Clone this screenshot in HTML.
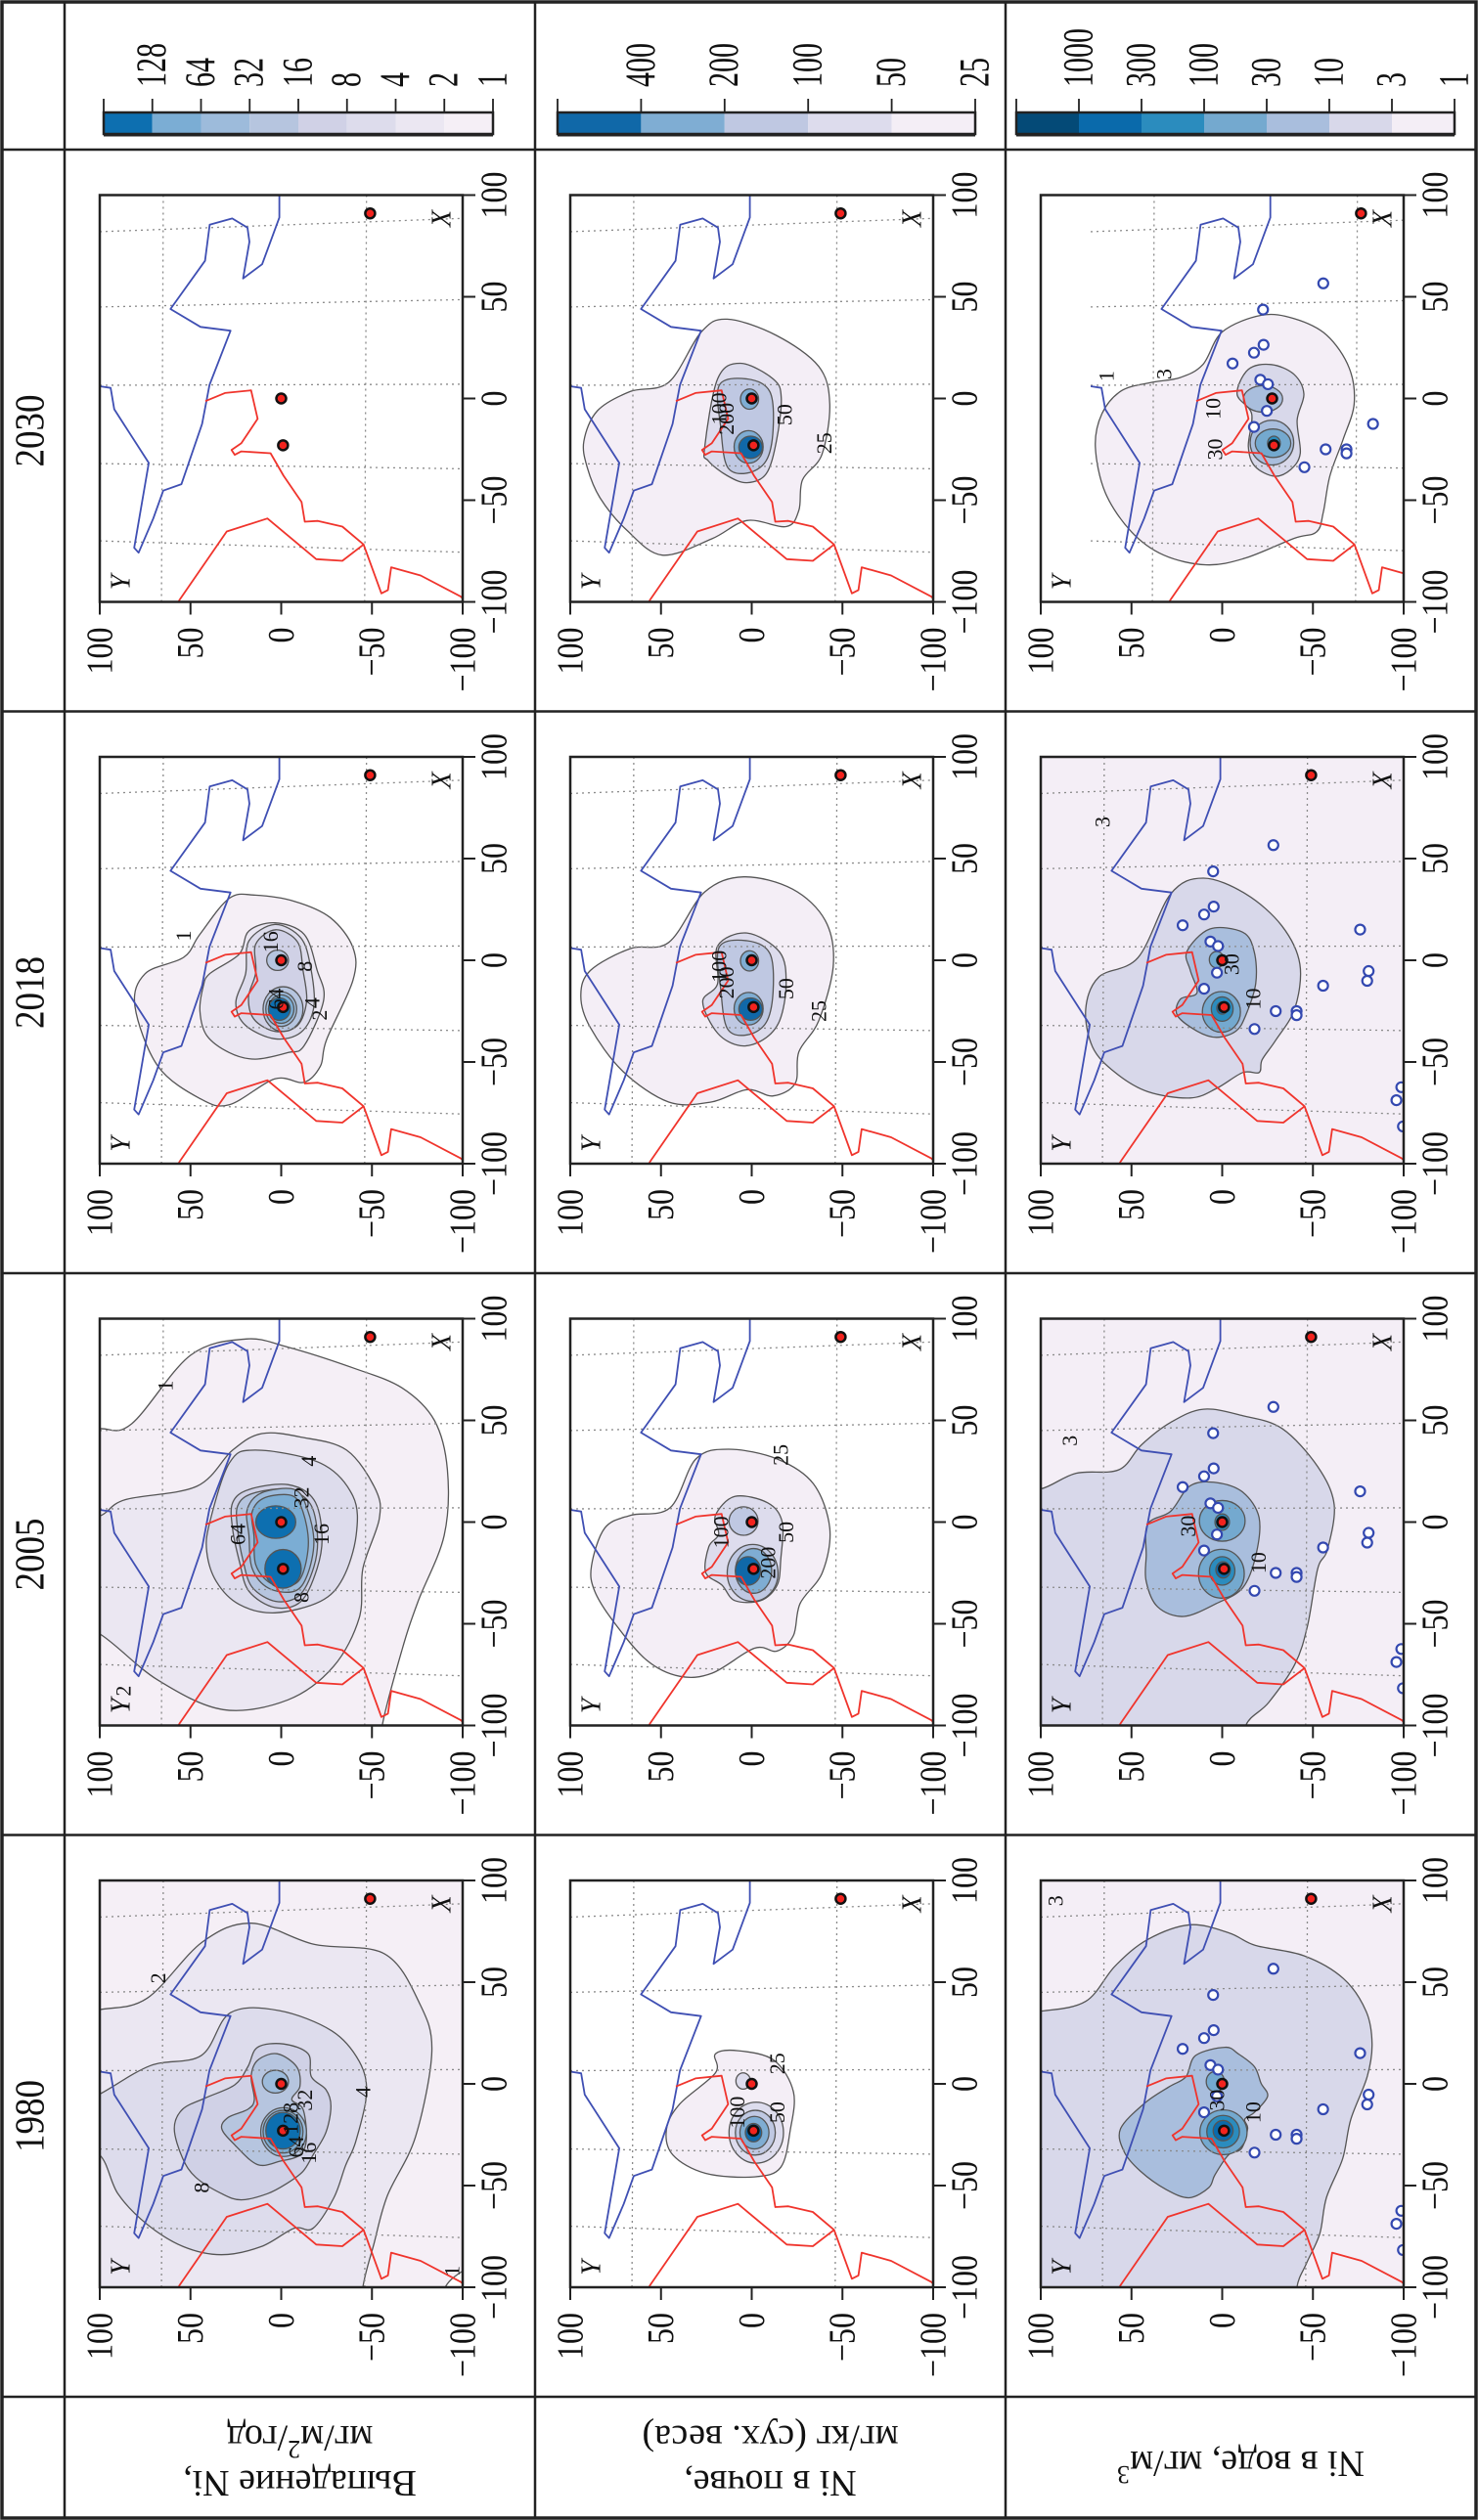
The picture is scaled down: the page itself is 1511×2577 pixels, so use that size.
<!DOCTYPE html>
<html><head><meta charset="utf-8">
<style>
html,body{margin:0;padding:0;background:#fff;}
svg{display:block;}
text{font-family:"Liberation Serif","DejaVu Serif",serif;fill:#111;}
</style></head>
<body>
<svg id="fig" xmlns="http://www.w3.org/2000/svg" width="1511" height="2577" viewBox="0 0 1511 2577">
<rect x="0" y="0" width="1511" height="2577" fill="#fff"/>
<g id="root" transform="translate(0,2577) rotate(-90)"></g>
</svg>
<script>
// ---------- data ----------
const years = ["1980","2005","2018","2030"];
const rowTitles = [["Выпадение Ni,","мг/м2/год"],["Ni в почве,","мг/кг (сух. веса)"],["Ni в воде, мг/м3"]];
const depLevels = [1,2,4,8,16,32,64,128];
const soilLevels = [25,50,100,200,400];
const waterLevels = [1,3,10,30,100,300,1000];
const depColors = ["#f5eff6","#ebe7f2","#dddcec","#d0d1e6","#b6c5df","#9dbbdb","#7badd4","#0d6fb0"];
const soilColors = ["#f4eef6","#dddced","#bfc8e2","#7fadd3","#1068a8"];
const waterColors = ["#f4eef6","#d8d8ea","#a9bedd","#74a9cf","#2b8cbe","#0a6aab","#044a77"];
const tickVals = [-100,-50,0,50,100];
const gridX = [82,45,6.5,-32,-70];
const gridY = [66,-46];
const sources = [[0,0],[-23,-1],[91,-49]];
const blueLine = [[99.5,1],[89,1],[66,10.5],[59,21],[77,17.5],[84,18.6],[88.5,27],[85.5,39.4],[67.7,42],[44,61],[35.2,44.5],[33.3,27.9],[6.7,39.5],[-12.5,43.6],[-42.1,55],[-45.3,65],[-59,70.5],[-75.8,78.6],[-73.4,81],[-31.7,73],[-5.3,92],[5.2,94],[6,100],[6,103]];
const redA = [[-1.3,41.8],[2.7,31],[4,16.6],[-10,13],[-22,22],[-25.3,27.4],[-27.7,25.6],[-26,22],[-26.9,5.9],[-38,-1.3],[-50.9,-11.2],[-60.6,-13],[-60.2,-20.2],[-63,-33.7],[-71.8,-45.4],[-95.8,-55.2],[-94.2,-58.8],[-83,-60.6],[-87,-76.8],[-97.4,-99],[-100,-102]];
const redB = [[-71.8,-45.4],[-79.8,-33.7],[-79,-19.3],[-59,7.6],[-65.4,30],[-99,56],[-102,58]];
const sites = [[17.2,21.8],[22.5,10],[26.4,4.7],[43.7,5],[9.2,6.5],[7,2.3],[-6.1,2.9],[-14,10],[-25,-29.5],[-25,-41],[-27,-41],[-33.8,-17.8],[-12.5,-55.6],[15.1,-76],[-5.3,-80.7],[-10.1,-79.9],[56.6,-28.2],[-68.8,-96],[-62.4,-98.7],[-81.7,-99.6]];
const FULL = [[130,130],[130,-130],[-130,-130],[-130,130]];

// contour polygons per panel: [levelIndex, points(X,Y)]
const dep1980Polys = [
 [0,[[130,130],[130,-130],[-80,-130],[-92,-100],[-104,-88],[-130,-80],[-130,130]]],
 [1,[[36.5,100],[42,74],[69.7,43.5],[79,16.4],[68.6,-18],[64,-56.8],[40,-76],[16,-83],[-26,-74],[-55,-58.5],[-79,-51],[-100,-45],[-120,-44],[-120,30],[-120,120],[0,120],[34,118]]],
 [2,[[-5,100],[9,72],[14,44],[35,28],[36,1],[26,-28],[11,-43],[-5,-47],[-28.5,-41],[-40,-35.5],[-56,-29],[-71,-17.5],[-71,-7],[-80,11],[-84,33],[-80,54],[-69,74],[-54,90],[-35,100],[-30,118],[-12,118]]],
 [3,[[-22,58.9],[-36.5,54.4],[-46,47],[-54,32.8],[-57,22],[-54,7.6],[-49,-3],[-43,-12],[-35,-17.5],[-23.7,-24.7],[-10.9,-27.4],[-2.9,-24.7],[3.5,-16.6],[14.8,-14.8],[19.6,-1.3],[18,13],[8.4,18.4],[-0.5,25.6],[-6.9,41.8],[-12.5,54.4]]],
 [4,[[-22,32.8],[-16.5,29.2],[-12.5,18.4],[-7.7,14.8],[3.5,16.6],[11.6,13],[14.8,2.3],[8.4,-8.5],[-1.3,-10.3],[-7.7,-5.8],[-12.5,-12],[-26.9,-13.9],[-34.9,-10.3],[-38,0.5],[-39.7,13],[-30,25.6]]]
];
const dep1980Ells = [[5,1.1,3.2,5.6,7.2],[5,-23.7,-1.3,12,12.6],[6,-23.5,-1,10.5,11],[7,-23,-1,9,9.5]];
const dep2005Polys = [
 [0,[[45.9,100],[48.3,82.4],[82,50],[90,19.6],[86,-3.7],[75.8,-39.5],[66,-66.5],[50,-84.4],[25.7,-91.6],[-6.6,-89.8],[-39,-75.4],[-63,-66.5],[-100,-55.7],[-120,-55],[-120,120],[46,120]]],
 [1,[[3,100],[11,86],[17.6,46.5],[35.4,26.8],[43.5,10.7],[41.8,-10.8],[35.4,-36],[16,-52],[1.5,-54],[-22.8,-45],[-47,-43],[-71,-28.8],[-87.4,-3.7],[-92.2,32],[-77.7,68],[-55,100],[-50,120],[0,120]]],
 [2,[[-0.2,39.4],[29,28.6],[35.4,14.3],[29,-21.6],[12.8,-39.5],[-6.6,-41.3],[-27.6,-34],[-39,-21.6],[-44.6,3.5],[-40.5,23.2],[-29.2,35.8],[-14.7,41]]],
 [3,[[9.5,26.8],[16,17.8],[18.4,-3.7],[11,-18],[-6.6,-22.5],[-22.8,-19.8],[-39,-10.9],[-42,3.5],[-34,17.8],[-19.5,23],[-3.4,26.8]]],
 [4,[[8,24],[14,16],[16,-3],[9,-16],[-7,-20],[-22,-18],[-36,-10],[-39,3],[-32,16],[-19,21],[-4,24]]],
 [5,[[6.3,18.7],[14.4,10.7],[16,-7.3],[6.3,-14.4],[-9.9,-18],[-26,-14.4],[-34,-7.3],[-32.5,7],[-22.8,16],[-6.6,17.8]]],
 [6,[[5,16],[12,9],[13,-6],[5,-12],[-10,-15],[-25,-12],[-31,-6],[-30,6],[-21,14],[-7,15]]]
];
const dep2005Ells = [[7,0,3,8,11],[7,-23,-1,9.5,10]];
const dep2018Polys = [
 [0,[[12.8,44.8],[30.5,28.6],[32,14.3],[29,-7.3],[21,-27],[6.3,-39.5],[-9.9,-39.5],[-39,-25],[-52,-21.6],[-60,-12.6],[-58.3,3.5],[-71,28.6],[-68,44.8],[-52,68],[-22.8,80.6],[-6.6,75],[1.5,53.7]]],
 [1,[[-13,43],[-6.6,39.4],[3,23.2],[14.4,17.8],[18.4,3.5],[12.8,-12.6],[-4.9,-19.8],[-19.5,-23.4],[-42,-12.6],[-45.4,-3.7],[-48.6,14.3],[-45.4,28.6],[-37,41],[-25,44.8]]],
 [2,[[9.5,17.8],[17.6,3.5],[11,-10.8],[-3.4,-16.2],[-22.8,-18],[-35.4,-10.9],[-38.6,3.5],[-32,19.6],[-21,25],[-6.6,19.6]]],
 [3,[[8,14],[15,3],[9,-9],[-5,-12],[-20,-14],[-32,-9],[-35,3],[-29,15],[-18,18],[-6,14]]]
];
const dep2018Ells = [[4,0,2,5,6],[4,-24,-1,11,11],[5,-24,0,8.5,8.5],[6,-24,0,7,7],[7,-24,1,5.5,6]];
const soil1980Polys = [
 [0,[[-22.5,47],[-10,39.8],[5.4,20],[14.7,20],[16.3,7.5],[11.6,-12.3],[-4,-23],[-22.5,-21.3],[-41,-16],[-45.7,-1.5],[-44,25.4],[-35,43.4]]]
];
const soil1980Ells = [[1,1.4,4.7,4,4],[1,-24,-2.5,15,15],[2,-24,-2,11,11],[3,-24,-1.5,8,8],[4,-24,-1,4.5,4.5]];
const soil2005Polys = [
 [0,[[-21.5,88.3],[-3,81],[3.3,66.8],[7,45],[31,30.8],[35.8,12.8],[31,-14],[18.8,-34],[-3,-43],[-24.7,-39],[-40,-26.7],[-55.7,-23],[-63.4,-14],[-62,-1.5],[-74.3,21.8],[-75.8,39.8],[-68,57.8],[-49.5,75.7],[-34,86.5]]],
 [1,[[3.3,20],[12.6,9.3],[9.5,-8.7],[0,-16.8],[-18.4,-16],[-31,-14],[-38.6,-5],[-38.6,9.3],[-31,16.4],[-24.7,25.4],[-12,23.6],[-6,18.2]]]
];
const soil2005Ells = [[2,0.5,4.5,7,8],[2,-25,-0.5,14,14],[3,-24,-1,11,10],[4,-24,2,7,7]];
const soil2018Polys = [
 [0,[[-17.5,94.2],[-5,88.9],[5.7,67],[8.8,45.7],[33.5,26],[41,4.4],[35,-22.5],[19.6,-40.5],[-2,-45],[-29.6,-37],[-45,-26],[-60.5,-24],[-66.7,-11.8],[-63.6,2.6],[-69.7,22.4],[-69.7,45.7],[-54.6,71],[-33,89]]],
 [1,[[7,18.8],[13.4,2.6],[4,-15.4],[-11.5,-19],[-29.6,-15.4],[-39,-6.4],[-42,6.2],[-35.8,18.8],[-20.4,27],[-11.5,18.8]]],
 [2,[[6.5,17.9],[9.6,2.6],[3.4,-10],[-15,-11.8],[-30.6,-8],[-36.7,2.6],[-33.6,13.4],[-15,17]]]
];
const soil2018Ells = [[3,-0.3,1.2,5,5],[3,-23.8,1.7,8,8],[4,-24,0.6,5.5,6.5]];
const soil2030Polys = [
 [0,[[-21,92.5],[-6,85],[3.4,67],[8,45.7],[32.7,27.8],[39,13.4],[31,-13.6],[15.7,-37],[-2.8,-43],[-27.5,-38.7],[-40,-28],[-55,-26],[-63,-19],[-60,2.6],[-69,22],[-77,49.3],[-64.6,69],[-49,83.5],[-34,90.6]]],
 [1,[[-24.4,26],[9.6,18.8],[17.3,6.2],[9.6,-11.8],[0.3,-16.3],[-21,-13.6],[-37,-8],[-41.4,2.6],[-38,13.4],[-30.6,24]]],
 [2,[[6.5,17.9],[9.6,2.6],[3.4,-10],[-15,-11.8],[-30.6,-8],[-36.7,2.6],[-33.6,13.4],[-15,17]]]
];
const soil2030Ells = [[3,-0.3,1.2,5,5],[3,-23.8,1.7,8,8],[4,-24,0.6,5.5,6.5]];
const water1980Polys = [
 [0,FULL],
 [1,[[35.7,100],[40.6,75.2],[58,59],[71,41],[78.2,17.7],[74.2,-3.9],[68.1,-18.2],[63,-45],[51.8,-66.8],[35.7,-79.3],[19.6,-82.6],[3.5,-79.9],[-17.4,-70.9],[-36.7,-66.4],[-56,-57.4],[-73.6,-53.8],[-88,-46.6],[-100,-41.2],[-120,-41],[-120,120],[35,120]]],
 [2,[[-9.3,42.4],[-22,56],[-33.4,54],[-43,45],[-52,30.8],[-56,18.2],[-51,7.4],[-44.7,4],[-35,-3.4],[-31.8,-10.6],[-22,-14],[-17.4,-12.4],[-14,-17.8],[-6.1,-25],[0.3,-21.4],[8.4,-17.8],[14.8,-8.8],[18,-1.6],[14,14.6],[3.5,20],[-1.3,29]]]
];
const water1980Ells = [[3,1.1,3.8,5,5],[3,-23.8,-0.7,11,13],[4,-23.5,-0.5,8,9],[5,-23,-0.5,5,5.5],[6,-23,-1,2.5,2.5]];
const water2005Polys = [
 [0,FULL],
 [1,[[16.3,100],[24,80.6],[25.7,57],[38,44.5],[49,28.4],[55.5,10.4],[52.3,-11.3],[46,-33],[27.3,-52.6],[8.5,-61.7],[-13.5,-58],[-23,-52.6],[-51,-47],[-70,-40],[-88.7,-25.6],[-100,-13],[-120,-10],[-120,120],[16,120]]],
 [2,[[-16.6,41.9],[-1,41],[5.3,28.4],[17.9,17.6],[19.4,3.1],[14.7,-11.3],[2.2,-20.3],[-16.6,-18.5],[-32.3,-11.3],[-40,3.1],[-46.4,21.2],[-41.7,35.6],[-29.2,41.9]]]
];
const water2005Ells = [[3,0.6,0,10,12.6],[3,-25.4,0.45,12,12.6],[4,0,0,4,4],[4,-24,0,7,7],[5,-23.5,-0.5,4,4]];
const water2018Polys = [
 [0,FULL],
 [1,[[-23.8,75.2],[-8.2,68],[1.3,46.4],[32.6,28.4],[40.4,10.4],[32.6,-13],[16.9,-32.9],[-1.9,-42.8],[-23.8,-40],[-39.5,-29.3],[-48.9,-22],[-55.2,-20.3],[-55.2,-11.3],[-63,3.1],[-67.7,17.6],[-64.6,41],[-55.2,59],[-42.6,71.5]]],
 [2,[[4.4,19.4],[15.4,6.8],[13.8,-11.3],[4.4,-17.6],[-11.3,-18.5],[-27,-13],[-34.8,-7.6],[-37.9,3.1],[-34.8,13.9],[-27,24.8],[-19.1,23],[-16,13.9],[-5,17.6]]]
];
const water2018Ells = [[3,0.3,3.1,4,4],[3,-25.4,0.45,10,10.5],[4,-24,0,6,6],[5,-23.5,0,3,3]];
const water2030Polys = [
 [0,[[-23.6,69.9],[-7.5,66.3],[3.8,55.5],[7.8,39.4],[10.3,23.2],[16.7,10.7],[32.8,-0.1],[40.9,-21.6],[39.3,-39.5],[31.2,-57.5],[15,-70],[-2.7,-72.7],[-20.4,-66.5],[-38.2,-59.3],[-56,-55.7],[-65.6,-52],[-68.8,-39.5],[-78.5,-12.6],[-81.8,8.9],[-77,32.2],[-65.6,50],[-46.2,64.5]]],
 [1,[[2.2,-8.2],[14.3,-14.4],[16.7,-27],[11.9,-39.5],[2.2,-45],[-10.7,-41.3],[-26.9,-43],[-34.9,-37.8],[-38.2,-28.8],[-33.3,-18],[-23.6,-14.4],[-7.5,-16.2]]]
];
const water2030Ells = [[2,-0.2,-22.5,6.5,10.8],[2,-21.7,-27.4,11,12],[3,-22,-28,7,9.8],[4,-22,-28.5,3.5,3.5]];
const depLabels = [[["2",52,68],["4",-4,-45],["8",-51,44],["16",-34,-15],["32",-8,-13],["64",-31,-8],["128",-17,-5],["1",-92,-94]],
 [["1",67,64],["2",-83,87],["4",30,-15],["8",-37,-11],["16",-6,-22],["32",12,-11],["64",-6,24]],
 [["1",12,54],["16",9,6],["8",-3,-13],["4",-21,-17],["2",-27,-21],["64",-19,3]],[]];
const soilLabels = [[["25",10,-14],["50",-14,-14],["100",-14,8]],[["25",33,-16],["50",-5,-19],["100",-5,17],["200",-20,-9]],[["25",-25,-37],["50",-14,-19],["100",-3,18],["200",-11,14]],[["25",-22,-40],["50",-8,-18],["100",-5,18],["200",-10,14]]];
const waterLabels = [[["3",90,92],["30",-8,3],["10",-14,-17]],[["3",40,84],["30",-2,19],["10",-20,-20]],[["3",68,66],["30",-2,-5],["10",-19,-17]],[["1",11,64],["3",12,32],["10",-5,5],["30",-25,4]]];

// ---------- helpers ----------
const NS="http://www.w3.org/2000/svg";
const root=document.getElementById('root');
function el(tag,attrs,parent){const e=document.createElementNS(NS,tag);for(const k in attrs)e.setAttribute(k,attrs[k]);(parent||root).appendChild(e);return e;}
function smoothPath(pts){
  const n=pts.length;let d="M"+pts[0][0].toFixed(1)+","+pts[0][1].toFixed(1);
  for(let i=0;i<n;i++){
    const p0=pts[(i-1+n)%n],p1=pts[i],p2=pts[(i+1)%n],p3=pts[(i+2)%n];
    const c1=[p1[0]+(p2[0]-p0[0])/6,p1[1]+(p2[1]-p0[1])/6];
    const c2=[p2[0]-(p3[0]-p1[0])/6,p2[1]-(p3[1]-p1[1])/6];
    d+="C"+c1[0].toFixed(1)+","+c1[1].toFixed(1)+" "+c2[0].toFixed(1)+","+c2[1].toFixed(1)+" "+p2[0].toFixed(1)+","+p2[1].toFixed(1);
  }
  return d+"Z";
}
function text(parent,str,x,y,size,opts){
  opts=opts||{};
  const t=el('text',{x:0,y:0,'font-size':size,'text-anchor':opts.anchor||'middle','dominant-baseline':'central',
    transform:'translate('+x+','+y+')'+(opts.rot?' rotate('+opts.rot+')':'')+(opts.sy?' scale(1,'+opts.sy+')':'')},parent);
  if(opts.italic)t.setAttribute('font-style','italic');
  t.textContent=str;return t;
}

const cellU=[126,700.5,1275,1849.5];
const rowV=[66,547,1028];
const PW=416, PH=371;

// ---------- table grid ----------
const grid=el('g',{});


el('rect',{x:2,y:2,width:2573,height:1507,fill:'none',stroke:'#222','stroke-width':3.5},grid);
[126,700.5,1275,1849.5,2424].forEach(u=>el('line',{x1:u,y1:2,x2:u,y2:1509,stroke:'#222','stroke-width':2.5},grid));
[66,547,1028].forEach(v=>el('line',{x1:2,y1:v,x2:2575,y2:v,stroke:'#222','stroke-width':2.5},grid));

// year headers
years.forEach((yr,i)=>{
  const t=text(root,yr,cellU[i]+287,30,37,{sy:1.15});
  
  
});
// row headers
rowTitles.forEach((lines,r)=>{
  const g=el('g',{});
  
  
  const vc=rowV[r]+240.5;
  const us=lines.length===2?[38,84]:[58];
  lines.forEach((ln,k)=>{
    const t=el('text',{x:0,y:0,'font-size':38,'text-anchor':'middle','dominant-baseline':'central',transform:'translate('+us[k]+','+vc+') rotate(-90)'},g);
    if(ln.indexOf('м2')>=0){t.textContent='мг/м';const s=el('tspan',{dy:-12,'font-size':26},t);s.textContent='2';const r2=el('tspan',{dy:12},t);r2.textContent='/год';}
    else if(ln.indexOf('м3')>=0){t.textContent='Ni в воде, мг/м';const s=el('tspan',{dy:-12,'font-size':26},t);s.textContent='3';}
    else t.textContent=ln;
  });
});

// ---------- panels ----------
const panels=[
 {r:0,levels:depLevels,colors:depColors,data:[[dep1980Polys,dep1980Ells],[dep2005Polys,dep2005Ells],[dep2018Polys,dep2018Ells],[[],[]]],labels:depLabels,name:'deposition'},
 {r:1,levels:soilLevels,colors:soilColors,data:[[soil1980Polys,soil1980Ells],[soil2005Polys,soil2005Ells],[soil2018Polys,soil2018Ells],[soil2030Polys,soil2030Ells]],labels:soilLabels,name:'soil'},
 {r:2,levels:waterLevels,colors:waterColors,data:[[water1980Polys,water1980Ells],[water2005Polys,water2005Ells],[water2018Polys,water2018Ells],[water2030Polys,water2030Ells]],labels:waterLabels,name:'water',sites:true}
];
let clipId=0;
panels.forEach(P=>{
  for(let c=0;c<4;c++){
    const L=cellU[c]+112, T=rowV[P.r]+36;
    const xs=X=>L+(X+100)*PW/200;
    const ys=Y=>T+(100-Y)*PH/200;
    const shift=(P.name==='water'&&c===3)?-27.5:0;
    const g=el('g',{});
    
    
    const cid='clip'+(clipId++);
    const cp=el('clipPath',{id:cid},g);
    el('rect',{x:L,y:T,width:PW,height:PH},cp);
    const inner=el('g',{'clip-path':'url(#'+cid+')'},g);
    el('rect',{x:L,y:T,width:PW,height:PH,fill:'#fff'},inner);
    // contours by level
    const [polys,ells]=P.data[c];
    for(let lv=0;lv<P.levels.length;lv++){
      polys.filter(p=>p[0]===lv).forEach(p=>{
        const pts=p[1].map(q=>[xs(q[0]),ys(q[1])]);
        const path=el('path',{d:smoothPath(pts),fill:P.colors[lv],stroke:'#555','stroke-width':1.3},inner);
        
        
      });
      ells.filter(e=>e[0]===lv).forEach(e=>{
        const ell=el('ellipse',{cx:xs(e[1]),cy:ys(e[2]),rx:xs(e[1]+e[3])-xs(e[1]),ry:ys(e[2]-e[4])-ys(e[2]),fill:P.colors[lv],stroke:'#555','stroke-width':1.3},inner);
        
        
      });
    }
    // map content (with optional shift, clipped)
    const mcid='mclip'+(clipId++);
    const mcp=el('clipPath',{id:mcid},g);
    const topY=shift?ys(100+shift):T;
    el('rect',{x:L,y:topY,width:PW,height:T+PH-topY},mcp);
    const map=el('g',{'clip-path':'url(#'+mcid+')'},inner);
    gridX.forEach(gx=>{
      const ln=el('line',{x1:xs(gx),y1:ys(100+shift),x2:xs(gx+gx*0.08),y2:ys(-100+shift),stroke:'#8a8a8a','stroke-width':1.3,'stroke-dasharray':'2,4'},map);
      
      
    });
    gridY.forEach(gy=>{
      const ln=el('line',{x1:xs(-100),y1:ys(gy+shift),x2:xs(100),y2:ys(gy+shift-1),stroke:'#8a8a8a','stroke-width':1.3,'stroke-dasharray':'2,4'},map);
      
      
    });
    const line=(arr,col,nm)=>{
      const pl=el('polyline',{points:arr.map(q=>xs(q[0]).toFixed(1)+','+ys(q[1]+shift).toFixed(1)).join(' '),fill:'none',stroke:col,'stroke-width':1.8,'stroke-linejoin':'round'},map);
      
      
    };
    line(blueLine,'#3f4fb3','coastline');
    line(redA,'#f0342c','border-line');
    line(redB,'#f0342c','border-line');
    if(P.sites){
      sites.forEach(s=>{
        const ci=el('circle',{cx:xs(s[0]),cy:ys(s[1]+shift),r:5,fill:'#fff',stroke:'#3348b0','stroke-width':2.2},map);
        
        
      });
    }
    sources.forEach(s=>{
      const ci=el('circle',{cx:xs(s[0]),cy:ys(s[1]+shift),r:5,fill:'#f2231e',stroke:'#111','stroke-width':2.5},map);
      
      
    });
    // contour labels
    P.labels[c].forEach(lb=>{
      const t=text(inner,lb[0],xs(lb[1]),ys(lb[2]),22);
      
      
    });
    const xl=text(g,'X',L+392,T+350,28,{italic:true});
    
    
    const yl=text(g,'Y',L+20,T+22,28,{italic:true});
    
    
    // frame
    const fr=el('rect',{x:L,y:T,width:PW,height:PH,fill:'none',stroke:'#222','stroke-width':2.5},g);
    
    
    // ticks
    tickVals.forEach(tv=>{
      el('line',{x1:xs(tv),y1:T+PH,x2:xs(tv),y2:T+PH+13,stroke:'#222','stroke-width':2},g);
      const tx=text(g,(tv<0?'\u2212':'')+Math.abs(tv),xs(tv),T+PH+32,32,{sy:1.2});
      
      
      el('line',{x1:L,y1:ys(tv),x2:L-13,y2:ys(tv),stroke:'#222','stroke-width':2},g);
      const ty=text(g,(tv<0?'\u2212':'')+Math.abs(tv),L-26,ys(tv),32,{anchor:'end',sy:1.2});
      
      
    });
  }
});

// ---------- legends ----------
const legendSpecs=[
 {levels:depLevels,colors:depColors,v0:106,v1:504,name:'deposition'},
 {levels:soilLevels,colors:soilColors,v0:570,v1:997,name:'soil'},
 {levels:waterLevels,colors:waterColors,v0:1039,v1:1487,name:'water'}
];
legendSpecs.forEach(Lg=>{
  const g=el('g',{});
  
  
  const n=Lg.levels.length, h=(Lg.v1-Lg.v0)/n;
  for(let i=0;i<n;i++){
    const lv=n-1-i;
    const r=el('rect',{x:2440,y:Lg.v0+i*h,width:22,height:h,fill:Lg.colors[lv]},g);
    
    
  }
  el('rect',{x:2440,y:Lg.v0,width:22,height:Lg.v1-Lg.v0,fill:'none',stroke:'#222','stroke-width':2.5},g);
  el('line',{x1:2439,y1:Lg.v0,x2:2439,y2:Lg.v1,stroke:'#222','stroke-width':3},g);
  for(let i=0;i<=n;i++){
    el('line',{x1:2462,y1:Lg.v0+i*h,x2:2476,y2:Lg.v0+i*h,stroke:'#222','stroke-width':1.8},g);
    if(i>=1){
      const t=text(g,String(Lg.levels[n-i]),2488,Lg.v0+i*h,30,{anchor:'start',sy:1.45});
      
      
    }
  }
});
</script>
</body></html>
